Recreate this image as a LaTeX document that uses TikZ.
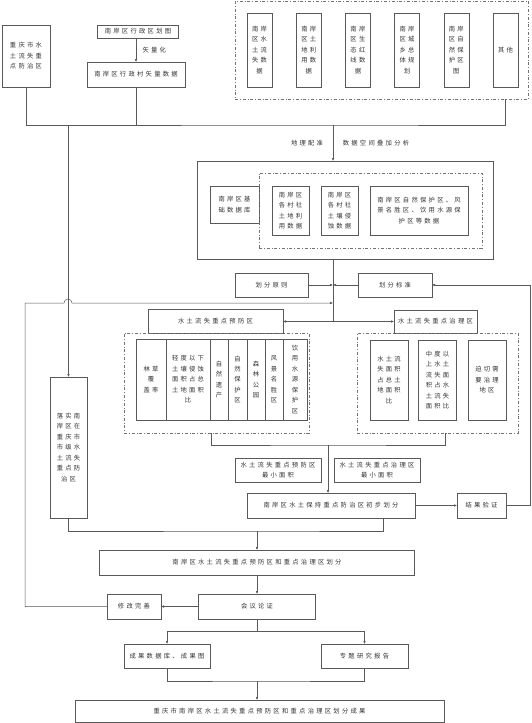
\documentclass[tikz,border=0pt]{standalone}
\usepackage{fontspec}
\setmainfont{Noto Sans CJK SC}[LetterSpace=36]
\usetikzlibrary{arrows.meta}
\tikzset{
  box/.style={draw=black!65, text=black!80, align=center, inner sep=1pt, outer sep=0pt, font=\fontsize{6.3}{10.5}\selectfont},
  dashbox/.style={draw=black!55, dash pattern=on 3pt off 2pt on 0.6pt off 2pt, outer sep=0pt},
  lbl/.style={text=black!80, font=\fontsize{6.3}{10.5}\selectfont},
  arr/.style={-{Latex[length=3pt,width=2.6pt]}},
}
\begin{document}
\begin{tikzpicture}[x=1pt,y=-1pt,line width=0.5pt,color=black!65]
    \fill[white] (0,0) rectangle (531,723);
    \useasboundingbox (0,0) rectangle (531,723);
    %% inputs
    \node[box, minimum width=48pt, minimum height=62pt] (cq) at (26,56) {重庆市水\\土流失重\\点防治区};
    \node[box, minimum width=81pt, minimum height=13pt] (map) at (138,31.5) {南岸区行政区划图};
    \node[box, minimum width=98pt, minimum height=25pt] (vec) at (136,74.5) {南岸区行政村矢量数据};
    \draw[arr] (map.south -| vec.north) -- (vec.north);
    \node[lbl, anchor=west] (vl) at (139,50) {矢量化};
    %% data group
    \node[dashbox, minimum width=293pt, minimum height=98pt] (src) at (381.5,50) {};
    \foreach \i/\t in {1/{南岸\\区水\\土流\\失数\\据}, 2/{南岸\\区土\\地利\\用数\\据}, 3/{南岸\\区生\\态红\\线数\\据}, 4/{南岸\\区城\\乡总\\体规\\划}, 5/{南岸\\区自\\然保\\护区\\图}, 6/{其他}} {
        \node[box, minimum width=25pt, minimum height=74pt] (s\i) at ({259.5+49.2*(\i-1)},50) {\t};
    }
    %% database
    \node[box, minimum width=296pt, minimum height=98pt] (db) at (345,210) {};
    \node[box, minimum width=49pt, minimum height=37pt] (jc) at (234.5,204.5) {南岸区基\\础数据库};
    \node[dashbox, minimum width=223pt, minimum height=75pt] (dv) at (370.5,210.5) {};
    \node[box, minimum width=37pt, minimum height=49pt] (d1) at (290.5,210.5) {南岸区\\各村社\\土地利\\用数据};
    \node[box, minimum width=37pt, minimum height=49pt] (d2) at (339.5,210.5) {南岸区\\各村社\\土壤侵\\蚀数据};
    \node[box, minimum width=98pt, minimum height=49pt] (d3) at (419,210.5) {南岸区自然保护区、风\\景名胜区、饮用水源保\\护区等数据};
    \node[lbl] (gr) at (307,143) {地理配准};
    \node[lbl] (ov) at (376,143) {数据空间叠加分析};
    %% bus
    \coordinate (bus) at (333,125);
    \draw (cq.south) |- (bus) -| (src.south -| s6.south);
    \draw (vec.south) -- (vec.south |- bus);
    \draw[arr] (bus) -- (bus |- db.north);
    %% rules
    \node[box, minimum width=73pt, minimum height=24pt] (yz) at (271.5,285) {划分原则};
    \node[box, minimum width=74pt, minimum height=24pt] (bz) at (395,285) {划分标准};
    \draw[arr] (yz.east) -- (yz.east -| bus);
    \draw[arr] (bz.west) -- (bz.west -| bus);
    %% prevention
    \node[box, minimum width=135pt, minimum height=24pt] (pv) at (215.5,321.5) {水土流失重点预防区};
    \node[dashbox, minimum width=185pt, minimum height=100pt] (pd) at (216.5,383) {};
    \node[box, minimum width=30pt, minimum height=81pt] (p1) at (151,379.5) {林草\\覆\\盖率};
    \node[box, minimum width=44pt, minimum height=81pt] (p2) at (188,379.5) {轻度以下\\土壤侵蚀\\面积占总\\土地面积\\比};
    \node[box, minimum width=18pt, minimum height=81pt] (p3) at (219,379.5) {自\\然\\遗\\产};
    \node[box, minimum width=19pt, minimum height=81pt] (p4) at (237.5,379.5) {自\\然\\保\\护\\区};
    \node[box, minimum width=18pt, minimum height=81pt] (p5) at (256,379.5) {森\\林\\公\\园};
    \node[box, minimum width=18pt, minimum height=81pt] (p6) at (274,379.5) {风\\景\\名\\胜\\区};
    \node[box, minimum width=24pt, minimum height=81pt] (p7) at (295,379.5) {饮\\用\\水\\源\\保\\护\\区};
    %% control
    \node[box, minimum width=83pt, minimum height=23pt] (ct) at (435.5,321.5) {水土流失重点治理区};
    \node[dashbox, minimum width=161pt, minimum height=100pt] (cd) at (437.5,383) {};
    \node[box, minimum width=38pt, minimum height=80pt] (c1) at (389,380) {水土流\\失面积\\占总土\\地面积\\比};
    \node[box, minimum width=38pt, minimum height=80pt] (c2) at (437.5,380) {中度以\\上水土\\流失面\\积占水\\土流失\\面积比};
    \node[box, minimum width=38pt, minimum height=80pt] (c3) at (487,380) {迫切需\\要治理\\地区};
    \draw (db.south -| bus) -- (bus |- pv.east);
    \draw[arr] (bus |- pv.east) -- (pv.east);
    \draw[arr] (bus |- ct.west) -- (ct.west);
    %% city level
    \node[box, minimum width=37pt, minimum height=141pt] (ts) at (68.5,447.5) {落实南\\岸区在\\重庆市\\市级水\\土流失\\重点防\\治区};
    \draw[arr] (ts.north |- bus) -- (ts.north);
    %% preliminary
    \node[box, minimum width=86pt, minimum height=24pt] (m1) at (278,470) {水土流失重点预防区\\最小面积};
    \node[box, minimum width=86pt, minimum height=24pt] (m2) at (377,470) {水土流失重点治理区\\最小面积};
    \node[box, minimum width=168pt, minimum height=25pt] (cb) at (331,505.5) {南岸区水土保持重点防治区初步划分};
    \node[box, minimum width=49pt, minimum height=25pt] (jg) at (481.5,505.5) {结果验证};
    \coordinate (pm) at (328,445);
    \draw (211,433) |- (pm) -| (445,433);
    \draw[arr] (pm) -- (pm |- cb.north);
    \draw[arr] (cb.east) -- (jg.west);
    \draw[arr] (jg.east) -- ++(24,0) |- (bz.east);
    %% final division
    \node[box, minimum width=315pt, minimum height=25pt] (hf) at (257,562.5) {南岸区水土流失重点预防区和重点治理区划分};
    \coordinate (jm) at (257,531);
    \draw (ts.south) |- (jm) -| ([xshift=52pt]cb.south);
    \draw[arr] (jm) -- (hf.north);
    \node[box, minimum width=117pt, minimum height=25pt] (hy) at (257,606.5) {会议论证};
    \node[box, minimum width=54pt, minimum height=25pt] (xg) at (134,606.5) {修改完善};
    \draw[arr] (hf.south) -- (hy.north);
    \draw[arr] (hy.west) -- (xg.east);
    \draw[arr] (xg.west) -| (25,303) -- (64,303) arc (180:360:4) -- (bus |- 0,303);
    %% results
    \node[box, minimum width=86pt, minimum height=24pt] (cg) at (167,656) {成果数据库、成果图};
    \node[box, minimum width=87pt, minimum height=24pt] (zt) at (364.5,656) {专题研究报告};
    \draw[arr] (hy.south) -- ++(0,12.5) -| (cg.north);
    \draw[arr] (hy.south) ++(0,12.5) -| (zt.north);
    \node[box, minimum width=369pt, minimum height=22pt] (fin) at (259.5,711) {重庆市南岸区水土流失重点预防区和重点治理区划分成果};
    \coordinate (rm) at (257,681);
    \draw (cg.south) |- (rm) -| (zt.south);
    \draw[arr] (rm) -- (rm |- fin.north);
\end{tikzpicture}
\end{document}
